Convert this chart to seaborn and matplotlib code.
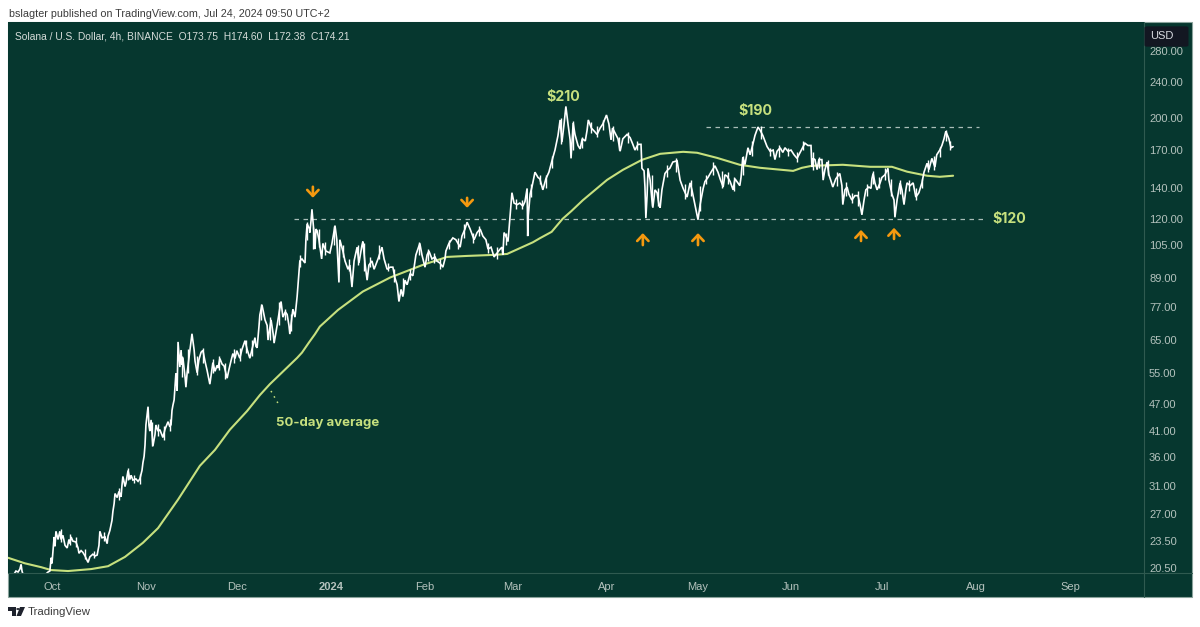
import numpy as np
import pandas as pd
import matplotlib
matplotlib.use("Agg")
import matplotlib.pyplot as plt
from matplotlib.lines import Line2D
from matplotlib.patches import FancyBboxPatch, Polygon, Rectangle, Circle
from matplotlib.ticker import FixedLocator, FixedFormatter, NullLocator
import matplotlib.dates as mdates
import seaborn as sns

START = pd.Timestamp("2023-10-01")

# (days since 1 Oct 2023, USD)
price_sep = [(-12.5,19.9),(-11.9,20.2),(-11.2,20.1),(-10.6,20.4),(-10.2,20.9),(-9.9,20.2),(-9.6,19.9),(-9,19.4),(-5,19.3),(-2,19.9),(-1.3,20.1),(-0.7,20.2),(-0.3,21.6)]
price_oct = [(0,21),(0.7,24),(1,22.9),(1.3,24.7),(2,23.7),(2.6,24.7),(3,23.7),(3.6,24.2),(4.3,23),(5,22.7),(5.6,23.7),(5.9,23.2),(6.3,24),(6.9,23.5),(7.9,23.4),(8.6,22.7),(8.9,22.1),(9.6,22.4),(10.2,22.2),(10.9,21.8),(11.9,21.1),(12.5,21.7),(13.5,22),(14.2,21.8),(14.9,21.9),(15.5,23),(15.8,24.7),(16.5,23.9),(17.5,24),(18.2,23.2),(18.5,24.1),(19.1,24.8),(19.8,26.1),(20.1,27.3),(20.5,28.4),(20.8,29.9),(21.5,29.3),(22.1,30.2),(22.4,29.9),(22.8,29.4),(23.1,31.2),(23.4,32.6),(24.1,31),(24.4,31.5),(25.1,33.6),(25.7,32.1),(26.1,32.8),(26.7,32),(27.7,32.2),(28.4,31.8),(29,32.2),(29.7,33.6),(30,34.9),(30.4,36.1),(30.7,38.2)]
price_nov = [(31,42.3),(31.7,46.4),(32,42.2),(32.3,41),(32.7,43.4),(33.3,38),(34,40.3),(34.3,42.3),(35,41),(35.6,41.3),(36.6,39.7),(37.3,41.4),(38.3,43),(38.9,41.9),(39.3,42.4),(39.6,45.5),(39.9,46.7),(40.3,48),(40.9,55),(41.3,50.3),(41.6,64.4),(42.2,56.7),(42.6,61.8),(42.9,57.4),(43.2,59.5),(43.9,54),(44.2,51.2),(44.6,55.1),(44.9,57.2),(45.5,61.9),(45.9,64.8),(46.2,67.1),(46.9,61.9),(47.2,58.5),(47.9,55.1),(48.5,58.9),(49.2,61.1),(49.8,61.7),(50.5,58.4),(51.2,55.7),(52.1,52),(52.8,56),(53.1,58),(53.8,55.5),(54.5,57.2),(54.8,56.4),(55.4,59.2),(56.1,57.6),(56.8,57),(57.8,53.6),(58.4,56),(59.1,58.6),(59.7,60.7),(60.4,59.2)]
price_dec = [(61,61.6),(62,59.3),(62.7,62),(63.7,64.8),(64.4,62),(65.3,59.3),(66,62),(67,65.8),(67.3,63),(67.7,62.5),(68.3,69.5),(68.6,73.8),(69.3,77.7),(70,73.8),(70.3,72),(71,70),(71.3,65),(72,70),(72.3,72),(73,67),(73.3,64),(74.3,70),(75,75),(75.6,79),(76.2,73),(77,75),(77.6,74),(78.2,70),(78.5,67),(79.2,73),(79.5,76),(80.2,73),(80.9,81),(81.2,86),(81.8,97),(82.5,98),(83.5,96),(83.8,108),(84.2,117),(85,114),(85.1,112),(85.5,119),(85.8,126),(86.5,111),(86.8,103),(87.1,114),(87.5,113),(88.1,108),(89,98),(89.4,106),(90.4,102),(91.7,101)]
price_jan = [(92.4,106),(93.4,116),(94,108),(94.7,87),(95,108),(96,102),(96.7,97),(97.7,93),(98.3,95),(99,85),(99.7,97),(100.7,104),(101.3,96),(102.3,105),(102.6,107),(103.3,96),(104,88),(104.6,95),(105.6,97),(106.3,93),(107.6,98),(108.9,104),(109.6,98),(110.6,93),(111.6,94),(112.5,94),(113.2,89),(113.9,86),(114.5,79),(115.2,84),(115.8,81),(116.5,88),(117.2,86),(118.2,91),(119.1,90),(120.1,100),(121.4,106),(122.1,100)]
price_feb = [(123.1,94),(123.8,100),(124.4,102),(125.4,98),(126.4,99),(127,97),(128,96),(129,94),(129.7,98),(130,102),(131,106),(132.3,109),(133.3,108),(134.7,104),(135.3,110),(136.3,114),(137,118),(138,114),(139.3,108),(140.3,112),(141.3,114),(142.2,110),(143.2,108),(143.9,103),(144.9,104),(145.9,99),(146.9,101),(147.9,103),(148.5,104),(148.8,100),(149.2,112),(149.8,110),(150.5,107),(151.2,122)]
price_mar = [(151.8,137),(152.5,130),(153.5,129),(154.4,130),(155.4,128),(156.1,131),(156.8,140),(157,110),(157.2,122),(157.8,136),(158.4,141),(159.4,152),(160.4,148),(161,147),(162,139),(163,147),(164,152),(165,161),(166,170),(167,183),(167.7,198),(168.3,177),(169,194),(169.6,212),(170.3,194),(171,179),(171.3,163),(172,195),(172.6,184),(173.6,174),(174.3,171),(175,180),(176,178),(176.6,188),(177,198),(178,190),(179,187),(179.9,184),(180.9,190)]
price_apr = [(181.8,194),(183,203),(183.8,194),(184.5,179),(185,190),(186.8,180),(187.5,169),(188.4,180),(189.8,184),(190.8,181),(191.7,175),(192.4,170),(193.4,175),(194.4,175),(194.7,155),(195.4,153),(195.7,141),(196,120.5),(196.4,135),(196.7,155),(197.4,146),(198,132),(198.3,127),(199,139),(199.7,137),(200.3,129),(200.7,127),(201.3,139),(202.3,151),(203.3,154),(203.9,155),(204.9,160),(206.3,161),(206.9,152),(207.3,146),(208.3,140),(209.6,134),(210.6,144),(211.2,139)]
price_may = [(212.2,129),(213.2,119.5),(213.9,129),(214.9,140),(215.5,145),(216.5,148),(217.5,152),(218.8,157),(219.8,152),(220.5,147),(221.5,141),(222.1,150),(222.8,149),(223.8,145),(224.8,139),(225.4,147),(227,142),(227.4,148),(228,164),(228.7,158),(229.7,172),(230.4,166),(231.4,176),(232,183),(233,191),(233.7,188),(234.6,183),(235.3,178),(236,173),(237,169),(238,170),(238.6,162),(239.3,169),(240.3,172),(241.2,168),(241.9,172)]
price_jun = [(242.9,169),(243.9,170),(244.9,166),(245.9,163),(246.9,168),(247.9,173),(248.5,176),(249.5,174),(250.5,174),(250.8,156),(251.2,163),(251.8,162),(252.5,154),(253.1,162),(254.1,162),(254.5,146),(255.1,154),(255.8,160),(256.4,150),(257,146),(257.7,141),(258.7,147),(260,151),(260.7,142),(261,129),(261.7,139),(262.4,141),(263,136),(264,132),(265,135),(266,135),(266.7,129),(267.3,122.5),(268,132),(268.6,139),(269.6,141),(270.3,140),(270.6,147),(271,151),(271.6,144),(272.3,139)]
price_jul = [(273.3,144),(273.9,148),(274.9,150),(275.9,155),(276.2,146),(276.9,139),(277.2,136),(277.9,132),(278.2,121),(278.9,132),(279.9,144),(280.5,139),(281.2,129),(281.8,139),(282.2,144),(283.2,142),(284.2,144),(284.8,137),(285.1,134),(286.1,137),(287.1,144),(287.8,152),(288.8,159),(289.4,154),(290.4,163),(291.4,156),(292,166),(293,170),(293.7,174),(294.4,180),(295,187),(295.7,182),(296,180),(296.7,172),(297.4,173)]

# (day, low, high) wick ranges
wicks_oct = [(3,23.4,25),(6,23,24.4),(8,22.8,24),(11,21.5,22.6),(14,21.6,22.4),(17,23.5,24.6),(22,29,30.8),(25,32,34),(27,31.6,32.8),(29,31.4,33)]
wicks_nov = [(33,38,43),(35,40,42.5),(37,39.3,42),(39,41,43.5),(43,54,60),(45,55,62),(48,54.5,60),(50,58,62.5),(53,55,59),(55,56,60),(57,53.5,58),(60,58,62)]
wicks_dec = [(62,58.5,62.5),(64,61,65),(66,60,65),(69,72,78),(72,65,73),(75,70,79),(77,72,76),(79,68,74),(82,94,100),(84,108,118),(86,103,115),(88,104,114),(90,100,107)]
wicks_jan = [(93,105,116),(96,99,105),(98,92,98),(101,95,105),(103,92,106),(105,94,99),(108,98,105),(111,92,96),(113,87,93),(116,82,89),(118,88,93),(121,100,107)]
wicks_feb = [(124,97,103),(126,96,101),(128,93,98),(131,103,108),(134,103,109),(136,109,117),(139,106,112),(141,110,116),(144,101,106),(147,98,104),(150,105,112)]
wicks_mar = [(153,126,133),(155,126,132),(158,134,143),(161,143,150),(163,140,150),(165,155,165),(168,175,200),(172,170,197),(175,172,182),(178,185,196),(180,182,192)]
wicks_apr = [(182,188,198),(185,178,192),(187,170,182),(190,176,186),(193,170,178),(198,128,150),(200,128,140),(203,148,158),(206,152,163),(209,133,143),(211,135,146)]
wicks_may = [(214,125,142),(216,143,150),(218,150,160),(221,140,153),(223,143,152),(225,138,148),(228,150,165),(231,165,178),(234,180,192),(237,165,172),(240,164,174)]
wicks_jun = [(243,165,172),(246,160,168),(248,170,178),(251,154,168),(253,155,164),(256,150,162),(259,142,152),(262,135,145),(264,130,137),(266,128,138),(269,135,143),(271,143,153),(273,140,148)]
wicks_jul = [(275,146,155),(277,135,147),(280,136,146),(283,138,146),(285,132,140),(287,140,147),(289,152,162),(291,154,165),(293,164,173),(295,178,188),(296.5,170,178)]

ma_days = [-14.5,-8.9,-3.6,-0.3,5.3,12.9,18.5,24.1,30,35,41.6,48.8,53.8,58.7,64.4,68.6,71.9,80.9,82.5,84.8,86.8,88.4,94.4,102.6,111.6,122.4,130.4,137,145.5,150.2,158.7,161,164.9,168.5,171.5,175.2,183.2,188.4,194.7,200.7,208.3,212.9,219.5,227,233.7,244.6,247.5,250.8,261,270,277.2,282.2,288.8,293,297.4]
ma_usd = [21.6,21.0,20.6,20.3,20.2,20.4,20.7,21.7,23.3,25.1,29,34.4,37.3,41.3,45.4,49.2,52,59.4,61,64.2,67,69.6,75.7,83.1,89.2,95.1,99,99.5,100,100.5,106.6,108.8,112.4,120,125,131.9,146.2,153.8,161.8,166.8,168.5,167.7,163.4,157.8,155.4,153,155.4,157,157.8,156.2,156.2,152.4,149.3,148.5,149.3]

y_ticks = [20.5,23.5,27,31,36,41,47,55,65,77,89,105,120,140,170,200,240,280]
x_tick_dates = ["2023-10-01","2023-11-01","2023-12-01","2024-01-01","2024-02-01","2024-03-01","2024-04-01","2024-05-01","2024-06-01","2024-07-01","2024-08-01","2024-09-01"]
x_tick_labels = ["Oct","Nov","Dec","2024","Feb","Mar","Apr","May","Jun","Jul","Aug","Sep"]
support_level = 120
resist_level = 191
# (day, tail price, tip price)
arrows = [(86.1,141.2,133.5),(137,133.5,126.9),(195,105.1,111.7),(213.2,105.1,111.7),(267,107.3,113.5),(277.9,108.4,114.7)]

BG = "#06372f"
GRID = "#2f5a50"
LIME = "#c6e07e"
ORANGE = "#f5990f"
AXTXT = "#b4c2bd"
W, H = 1200, 627
FONT = ["Liberation Sans", "DejaVu Sans"]
ANNOT = ["Inter", "DejaVu Sans"]

sns.set_theme(style="white")
plt.rcParams["font.family"] = FONT

def day(d):
    return START + pd.to_timedelta(d, unit="D")

price = pd.DataFrame(price_sep + price_oct + price_nov + price_dec + price_jan + price_feb + price_mar + price_apr + price_may + price_jun + price_jul, columns=["d", "usd"])
price["date"] = day(price["d"])
wicks = pd.DataFrame(wicks_oct + wicks_nov + wicks_dec + wicks_jan + wicks_feb + wicks_mar + wicks_apr + wicks_may + wicks_jun + wicks_jul, columns=["d", "low", "high"])
wicks["date"] = day(wicks["d"])
ma = pd.DataFrame({"date": day(pd.Series(ma_days)), "usd": ma_usd})

fig = plt.figure(figsize=(W / 100, H / 100), dpi=100, facecolor="white")

def fx(x): return x / W
def fy(y): return 1 - y / H

fig.add_artist(Rectangle((fx(8), fy(597)), 1184 / W, 575 / H, transform=fig.transFigure, facecolor=BG, edgecolor="#8aa39c", lw=0.8, zorder=-1))

ax = fig.add_axes([fx(8), fy(573), 1136 / W, 551 / H], facecolor=BG)
ax.set_yscale("log")
sns.lineplot(data=ma, x="date", y="usd", ax=ax, color=LIME, lw=1.5, estimator=None, sort=False, zorder=3)
sns.lineplot(data=price, x="date", y="usd", ax=ax, color="white", lw=1.2, estimator=None, sort=False, zorder=4, solid_joinstyle="miter")
ax.vlines(wicks["date"], wicks["low"], wicks["high"], color="white", lw=1.0, zorder=4)

ax.set_xlim(day(-14.52), day(360.4))
ax.set_ylim(20.0, 325)
ax.set_xlabel("")
ax.set_ylabel("")
for s in ax.spines.values():
    s.set_visible(False)

ax.yaxis.tick_right()
ax.yaxis.set_major_locator(FixedLocator(y_ticks))
ax.yaxis.set_major_formatter(FixedFormatter([f"{v:.2f}" for v in y_ticks]))
ax.yaxis.set_minor_locator(NullLocator())
ax.tick_params(axis="y", length=0, pad=3.6, labelsize=8, labelcolor=AXTXT)
ax.xaxis.set_major_locator(FixedLocator([mdates.date2num(pd.Timestamp(d)) for d in x_tick_dates]))
ax.xaxis.set_major_formatter(FixedFormatter(x_tick_labels))
ax.tick_params(axis="x", length=0, pad=6.5, labelsize=8, labelcolor=AXTXT)
for t in ax.get_xticklabels():
    if t.get_text() == "2024":
        t.set_fontweight("bold")

dash = (0, (3.6, 3.6))
ax.plot([day((294 - 52) / 3.03), day((983 - 52) / 3.03)], [support_level] * 2, color="#a9bdb7", lw=0.9, ls=dash, zorder=2)
ax.plot([day((706 - 52) / 3.03), day((979 - 52) / 3.03)], [resist_level] * 2, color="#a9bdb7", lw=0.9, ls=dash, zorder=2)

for d, tail, tip in arrows:
    ax.annotate("", xy=(day(d), tip), xytext=(day(d), tail), zorder=5,
                arrowprops=dict(arrowstyle="->,head_width=0.34,head_length=0.36", color=ORANGE, lw=1.9, shrinkA=0, shrinkB=0))

# scale separators
fig.add_artist(Line2D([fx(1144)] * 2, [fy(22), fy(597)], color=GRID, lw=0.8))
fig.add_artist(Line2D([fx(8), fx(1192)], [fy(573)] * 2, color=GRID, lw=0.8))

# USD badge
fig.add_artist(FancyBboxPatch((fx(1147), fy(45)), 39 / W, 17 / H, transform=fig.transFigure,
                              boxstyle="round,pad=0.0015", facecolor="#131722", edgecolor="#131722", zorder=6))
fig.text(fx(1162), fy(36), "USD", color="#d8dbe0", fontsize=8, ha="center", va="center", zorder=7)

# texts
fig.text(fx(9), fy(14), "bslagter published on TradingView.com, Jul 24, 2024 09:50 UTC+2", color="#3c3c3c", fontsize=7.76, va="center")
fig.text(fx(15), fy(36.5), "Solana / U.S. Dollar, 4h, BINANCE  O173.75  H174.60  L172.38  C174.21", color="#d5dcd9", fontsize=7.35, va="center", zorder=7)
fig.text(fx(28), fy(612), "TradingView", color="#3c3c3c", fontsize=8.2, va="center")
for x, y, s in [(563, 96.5, "$210"), (755, 110.5, "$190"), (1009, 219, "$120")]:
    fig.text(fx(x), fy(y), s, color=LIME, fontsize=10.2, fontweight="bold", ha="center", va="center", zorder=7, family=ANNOT)
fig.text(fx(276), fy(423), "50-day average", color=LIME, fontsize=9.5, fontweight="bold", va="center", zorder=7, family=ANNOT)
fig.add_artist(Line2D([fx(271), fx(279)], [fy(391), fy(405)], color=LIME, lw=1.1, ls=(0, (1, 3)), zorder=6))

# logo
logo = "#1e222d"
for pts in [[(8, 607), (16, 607), (16, 616), (12, 616), (12, 611), (8, 611)],
            [(20, 607), (25, 607), (21, 616), (16.5, 616)]]:
    fig.add_artist(Polygon([(fx(a), fy(b)) for a, b in pts], closed=True, transform=fig.transFigure, facecolor=logo, edgecolor="none"))
fig.add_artist(Circle((fx(18), fy(609)), 1.8 / W, transform=fig.transFigure, facecolor=logo, edgecolor="none"))

fig.savefig("out.png", dpi=100, facecolor="white")
